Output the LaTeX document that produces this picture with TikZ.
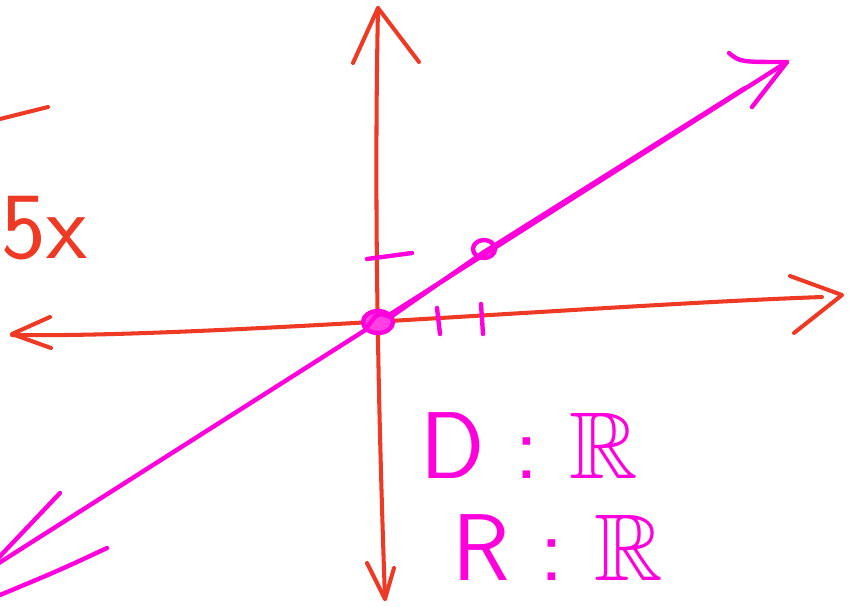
\documentclass[tikz,border=0pt]{standalone}
\usepackage{amssymb}
\definecolor{penred}{RGB}{238,58,36}
\definecolor{penpink}{RGB}{255,0,220}
\begin{document}
\begin{tikzpicture}[x=0.01cm,y=-0.01cm,
  axis/.style={penred,line width=1.15pt,line cap=round,line join=round},
  graph/.style={penpink,line width=1.25pt,line cap=round,line join=round},
  hand/.style={inner sep=0pt,font=\fontsize{27}{32}\selectfont\sffamily}]
\useasboundingbox (0,0) rectangle (849,606);
% y axis
\draw[axis] (385,599) .. controls (378,400) and (374,200) .. (378,8);
\draw[axis] (353,63) -- (378,8) -- (419,62);
\draw[axis] (367,563) -- (385,599) -- (394,568);
% x axis
\draw[axis] (12,335) .. controls (200,338) and (600,305) .. (822,297);
\draw[axis] (790,276) -- (842,295) -- (794,333);
\draw[axis] (50,317) -- (12,334) -- (51,348);
% bits on the left
\draw[axis] (0,119) -- (48,107);
\node[hand,penred,anchor=east] (fx) at (88,228) {5x};
% the line
\draw[graph] (-20,575) -- (787,62);
\draw[graph] (372,330) -- (484,252) -- (745,88);
\draw[graph] (729,53) .. controls (740,62) .. (787,62) -- (752,107);
\draw[graph] (60,493) -- (-15,572);
\draw[graph] (107,548) .. controls (60,570) .. (0,595);
% points
\draw[graph] (484,249) ellipse (11 and 9);
\draw[graph,fill=penpink!75] (378,322) ellipse (15 and 11);
\draw[graph] (368,326) .. controls (378,312) .. (392,318);
% ticks
\draw[graph] (367,259) -- (412,253);
\draw[graph] (437,308) -- (440,334);
\draw[graph] (481,304) -- (483,334);
% domain and range
\node[hand,penpink,anchor=west] (dom) at (420,446) {D : $\mathbb{R}$};
\node[hand,penpink,anchor=west] (ran) at (452,548) {R : $\mathbb{R}$};
\end{tikzpicture}
\end{document}
